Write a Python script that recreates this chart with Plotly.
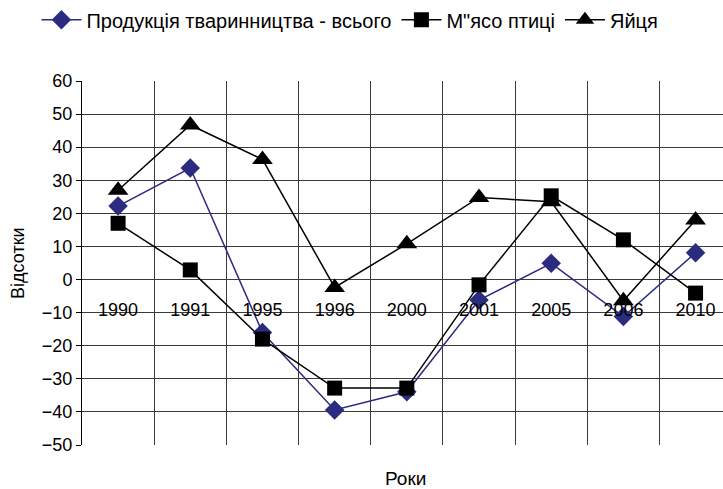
import plotly.graph_objects as go

years = ["1990", "1991", "1995", "1996", "2000", "2001", "2005", "2006", "2010"]
livestock_total = [22.2, 33.7, -16.0, -39.4, -33.9, -6.2, 4.9, -11.2, 8.1]
poultry_meat = [17.0, 2.9, -18.0, -32.8, -32.8, -1.6, 25.3, 12.0, -4.1]
eggs = [27.0, 46.7, 36.3, -2.4, 10.8, 24.8, 23.5, -6.4, 18.0]

y_ticks = list(range(-50, 61, 10))
y_min, y_max = -50, 60

FONT = "Liberation Sans, Arial, sans-serif"
NAVY = "#2B2B80"
GRID = "#3a3a3a"

fig = go.Figure()
fig.add_trace(go.Scatter(
    x=years, y=livestock_total, name="Продукція тваринництва - всього",
    mode="lines+markers", line=dict(color=NAVY, width=1.5),
    marker=dict(symbol="diamond", size=15, color=NAVY)))
fig.add_trace(go.Scatter(
    x=years, y=poultry_meat, name="М\"ясо птиці",
    mode="lines+markers", line=dict(color="black", width=1.5),
    marker=dict(symbol="square", size=15, color="black")))
fig.add_trace(go.Scatter(
    x=years, y=eggs, name="Яйця",
    mode="lines+markers", line=dict(color="black", width=1.5),
    marker=dict(symbol="triangle-up", size=18, color="black")))

zero_pos = (0 - y_min) / (y_max - y_min)

fig.update_layout(
    width=723, height=489,
    margin=dict(l=82, r=0, t=81, b=44, autoexpand=False),
    paper_bgcolor="white", plot_bgcolor="white",
    font=dict(family=FONT, size=18, color="black"),
    showlegend=True,
    legend=dict(orientation="h", x=0.418, xanchor="center", y=1.168, yanchor="middle",
                font=dict(size=20), itemwidth=40, tracegroupgap=0,
                bgcolor="rgba(0,0,0,0)"),
    xaxis=dict(
        type="category", categoryorder="array", categoryarray=years,
        range=[-0.5, 8.38], tickson="boundaries",
        showgrid=True, gridcolor=GRID, gridwidth=1,
        anchor="free", position=zero_pos,
        showline=False, ticks="", ticklabelstandoff=17,
        tickfont=dict(size=18), zeroline=False, automargin=False,
    ),
    yaxis=dict(
        range=[y_min, y_max], tickvals=y_ticks,
        showgrid=True, gridcolor=GRID, gridwidth=1,
        zeroline=True, zerolinecolor=GRID, zerolinewidth=1,
        showline=True, linecolor="black", linewidth=1,
        ticks="outside", ticklen=5, tickcolor="black",
        tickfont=dict(size=18), automargin=False,
    ),
    annotations=[
        dict(text="Роки", xref="paper", yref="paper", x=0.505, y=-0.092,
             xanchor="center", yanchor="middle", showarrow=False,
             font=dict(size=19)),
        dict(text="Відсотки", xref="paper", yref="paper", x=-0.1, y=0.5,
             xanchor="center", yanchor="middle", showarrow=False, textangle=-90,
             font=dict(size=18)),
    ],
)

fig.write_html(
    "out.html",
    config={"displayModeBar": False},
    post_script="document.body.style.margin='0';document.body.style.padding='0';"
                "document.body.style.overflow='hidden';",
)
